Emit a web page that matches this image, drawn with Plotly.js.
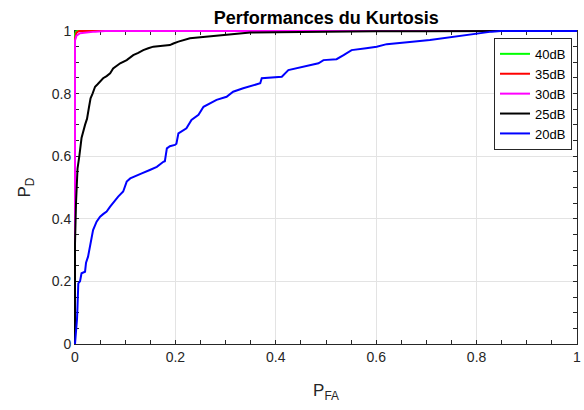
<!DOCTYPE html>
<html>
<head>
<meta charset="utf-8">
<script src="https://cdn.plot.ly/plotly-3.0.1.min.js"></script>
<style>html,body{margin:0;padding:0;background:#fff;}#chart{width:584px;height:410px;}</style>
</head>
<body>
<div id="chart"></div>
<script>
// Series names
const seriesNames = ['40dB', '35dB', '30dB', '25dB', '20dB'];
const seriesColors = ['#00ff00', '#ff0000', '#ff00ff', '#000000', '#0000ff'];

// 40 dB
const pfa40 = [0, 0, 0.002, 0.005, 1];
const pd40  = [0, 0.99, 0.998, 1, 1];
// 35 dB
const pfa35 = [0, 0, 0.003, 0.008, 1];
const pd35  = [0, 0.975, 0.995, 1, 1];
// 30 dB
const pfa30 = [0, 0, 0.003, 0.01, 0.04, 0.06, 1];
const pd30  = [0, 0.97, 0.985, 0.993, 0.998, 1, 1];
// 25 dB
const pfa25 = [0, 0, 0.002, 0.005, 0.0086, 0.013, 0.02, 0.024, 0.028, 0.031, 0.035, 0.04, 0.045, 0.05, 0.056, 0.063, 0.07, 0.076, 0.083, 0.09, 0.103, 0.116, 0.126, 0.136, 0.146, 0.156, 0.17, 0.189, 0.196, 0.206, 0.229, 0.26, 0.285, 0.32, 0.349, 0.4, 0.45, 0.5, 0.55, 0.6, 0.7, 0.8, 0.85, 1];
const pd25  = [0, 0.32, 0.45, 0.56, 0.6, 0.658, 0.7, 0.72, 0.758, 0.785, 0.80, 0.822, 0.83, 0.838, 0.849, 0.856, 0.865, 0.88, 0.888, 0.897, 0.907, 0.923, 0.93, 0.939, 0.945, 0.95, 0.952, 0.955, 0.96, 0.966, 0.977, 0.982, 0.987, 0.991, 0.995, 0.996, 0.997, 0.998, 0.998, 0.999, 0.9995, 1, 1, 1];
// 20 dB
const pfa20 = [0, 0.002, 0.004, 0.005, 0.0066, 0.01, 0.013, 0.02, 0.022, 0.026, 0.03, 0.033, 0.036, 0.043, 0.05, 0.056, 0.063, 0.07, 0.078, 0.086, 0.096, 0.103, 0.11, 0.12, 0.133, 0.149, 0.163, 0.176, 0.179, 0.183, 0.189, 0.199, 0.202, 0.206, 0.222, 0.232, 0.246, 0.256, 0.27, 0.282, 0.302, 0.315, 0.335, 0.352, 0.369, 0.372, 0.39, 0.412, 0.425, 0.442, 0.462, 0.485, 0.495, 0.521, 0.535, 0.551, 0.58, 0.601, 0.621, 0.647, 0.667, 0.707, 0.74, 0.767, 0.8, 0.83, 0.847, 1];
const pd20  = [0, 0.034, 0.08, 0.12, 0.194, 0.2, 0.226, 0.231, 0.26, 0.279, 0.316, 0.33, 0.364, 0.391, 0.407, 0.415, 0.423, 0.439, 0.455, 0.471, 0.487, 0.519, 0.529, 0.537, 0.545, 0.556, 0.566, 0.582, 0.584, 0.625, 0.632, 0.636, 0.64, 0.673, 0.689, 0.716, 0.732, 0.758, 0.77, 0.78, 0.79, 0.806, 0.817, 0.825, 0.833, 0.849, 0.852, 0.854, 0.875, 0.881, 0.888, 0.897, 0.907, 0.91, 0.923, 0.939, 0.945, 0.95, 0.958, 0.961, 0.965, 0.971, 0.978, 0.984, 0.993, 0.998, 1, 1];

// Tick values
const tickVals = [0, 0.2, 0.4, 0.6, 0.8, 1];
const tickText = ['0', '0.2', '0.4', '0.6', '0.8', '1'];

const xs = [pfa40, pfa35, pfa30, pfa25, pfa20];
const ys = [pd40, pd35, pd30, pd25, pd20];

const traces = seriesNames.map((n, i) => ({
  x: xs[i], y: ys[i], name: n, type: 'scatter', mode: 'lines',
  line: {color: seriesColors[i], width: 2}
}));

const FONT = 'Arial, "Liberation Sans", Helvetica, sans-serif';
const axisCommon = {
  range: [0, 1], tickvals: tickVals, ticktext: tickText,
  showgrid: true, gridcolor: '#e3e3e3', gridwidth: 1,
  zeroline: false, showline: true, linecolor: '#262626', linewidth: 1,
  mirror: 'ticks', ticks: 'inside', ticklen: 4, tickcolor: '#262626',
  tickfont: {family: FONT, size: 14, color: '#262626'},
  minor: {dtick: 0.05, ticks: 'inside', ticklen: 4, tickcolor: '#262626', showgrid: false},
  layer: 'below traces',
  fixedrange: true, automargin: false
};

const layout = {
  width: 584, height: 410,
  margin: {l: 75, r: 7, t: 31, b: 66},
  paper_bgcolor: '#ffffff', plot_bgcolor: '#ffffff',
  font: {family: FONT, color: '#262626'},
  title: {text: '<b>Performances du Kurtosis</b>', font: {family: FONT, size: 18, color: '#000000'},
          x: 0.5585, xanchor: 'center', y: 0.958, yanchor: 'middle'},
  xaxis: Object.assign({}, axisCommon, {
    title: {text: 'P<sub>FA</sub>', font: {family: FONT, size: 17, color: '#262626'}, standoff: 20}
  }),
  yaxis: Object.assign({}, axisCommon, {
    title: {text: 'P<sub>D</sub>', font: {family: FONT, size: 17, color: '#262626'}, standoff: 16}
  }),
  legend: {
    x: 0.99, xanchor: 'right', y: 0.978, yanchor: 'top',
    bgcolor: '#ffffff', bordercolor: '#262626', borderwidth: 1,
    font: {family: FONT, size: 13, color: '#000000'},
    tracegroupgap: 0, itemwidth: 30
  },
  showlegend: true
};

Plotly.newPlot('chart', traces, layout, {staticPlot: true, displayModeBar: false}).then(gd => {
  // let line widths at the axis limits show fully, as in the reference
  gd.querySelectorAll('.cartesianlayer [clip-path]').forEach(g => g.removeAttribute('clip-path'));
});
</script>
</body>
</html>
